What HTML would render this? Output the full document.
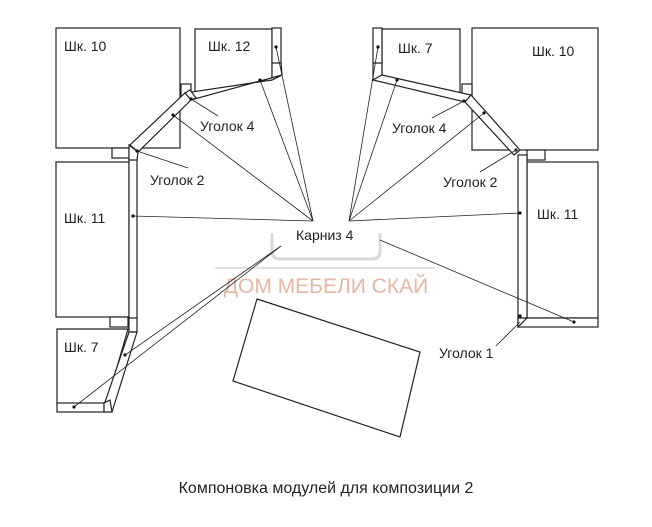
<!DOCTYPE html>
<html><head><meta charset="utf-8"><style>
html,body{margin:0;padding:0;background:#fff;}
svg{display:block}
text{font-family:"Liberation Sans","DejaVu Sans",sans-serif;fill:#222}
</style></head><body>
<svg width="652" height="527" viewBox="0 0 652 527" xmlns="http://www.w3.org/2000/svg">
<g fill="#fff" stroke="#222" stroke-width="1.2">
<rect x="56" y="28" width="124" height="120"/>
<polygon points="195,29 272,29 272,78 195,97"/>
<rect x="56" y="162" width="73" height="155"/>
<polygon points="57,329 128,329 106,405 57,405"/>
<polygon points="382,29 460,29 460,96 382,77"/>
<rect x="472" y="28" width="126" height="122"/>
<rect x="527" y="162" width="71" height="156"/>
<rect x="181" y="84" width="10" height="14"/>
<rect x="112" y="148" width="18" height="10"/>
<rect x="462" y="84" width="10" height="14"/>
<rect x="527" y="150" width="18" height="10"/>
<rect x="110" y="317" width="18" height="10"/>
<rect x="272" y="28" width="9" height="36"/>
<polygon points="272,63 281,63 282,75 272,80"/>
<polygon points="272,80 282,75 191,100 185,93"/>
<polygon points="185,93 191,100 196,98 190,90"/>
<polygon points="185,93 191,100 138,152 130,145"/>
<rect x="129" y="150" width="8" height="170"/>
<polygon points="129,145 138,152 137,160 129,160"/>
<polygon points="129,318 137,318 137,332 129,332"/>
<polygon points="129,332 137,332 112,412 104,405"/>
<rect x="57" y="403" width="47" height="9"/>
<polygon points="104,403 104,412 112,412 110,400"/>
<rect x="373" y="28" width="9" height="36"/>
<polygon points="373,63 382,63 382,75 373,80"/>
<polygon points="373,80 382,75 471,95 465,102"/>
<polygon points="465,102 471,95 520,150 514,155"/>
<rect x="518" y="155" width="9" height="165"/>
<rect x="518" y="318" width="80" height="9"/>
<polygon points="518,318 527,318 518,327"/>
<polygon points="257,299 420,352 400,437 233,381"/>
</g>
<g fill="none" stroke="#d8d8d8" stroke-width="3">
<path d="M272,233 v18 q0,8 8,8 h92 q8,0 8,-8 v-18"/>
<path d="M215,268 h220" stroke-width="1.5"/>
</g>
<text x="326" y="293" text-anchor="middle" font-size="21" style="fill:#e6b8a4">ДОМ МЕБЕЛИ СКАЙ</text>
<g stroke="#222" stroke-width="0.8" fill="none">
<path d="M313,221 L133,216 M313,221 L173,115 M313,221 L260,80 M313,221 L276,47"/>
<path d="M349,221 L520,213 M349,221 L484,113 M349,221 L397,80 M349,221 L378,47"/>
<path d="M281,246 L74,407 M281,246 L125,355"/>
<path d="M380,240 L574,322"/>
<path d="M520,322 L496,346"/>
<path d="M188,168 L137,151"/>
<path d="M218,116 L191,99"/>
<path d="M432,118 L464,101"/>
<path d="M480,172 L516,150"/>
</g>
<g fill="#111">
<circle cx="133" cy="216" r="1.6"/><circle cx="173" cy="115" r="1.6"/><circle cx="260" cy="80" r="1.6"/><circle cx="276" cy="47" r="1.6"/>
<circle cx="520" cy="213" r="1.6"/><circle cx="484" cy="113" r="1.6"/><circle cx="397" cy="80" r="1.6"/><circle cx="378" cy="47" r="1.6"/>
<circle cx="74" cy="407" r="1.6"/><circle cx="125" cy="355" r="1.6"/><circle cx="574" cy="322" r="1.6"/><circle cx="520" cy="316" r="1.6"/>
<circle cx="137" cy="151" r="1.6"/><circle cx="191" cy="99" r="1.6"/><circle cx="464" cy="101" r="1.6"/><circle cx="516" cy="150" r="1.6"/>
</g>
<g font-size="14">
<text x="64" y="51">Шк. 10</text>
<text x="208" y="51">Шк. 12</text>
<text x="64" y="223">Шк. 11</text>
<text x="64" y="352">Шк. 7</text>
<text x="398" y="53">Шк. 7</text>
<text x="532" y="56">Шк. 10</text>
<text x="537" y="219">Шк. 11</text>
<text x="200" y="131">Уголок 4</text>
<text x="150" y="185">Уголок 2</text>
<text x="392" y="133">Уголок 4</text>
<text x="443" y="187">Уголок 2</text>
<text x="296" y="240">Карниз 4</text>
<text x="439" y="358">Уголок 1</text>
</g>
<text x="326" y="493" text-anchor="middle" font-size="16">Компоновка модулей для композиции 2</text>
</svg>
</body></html>
